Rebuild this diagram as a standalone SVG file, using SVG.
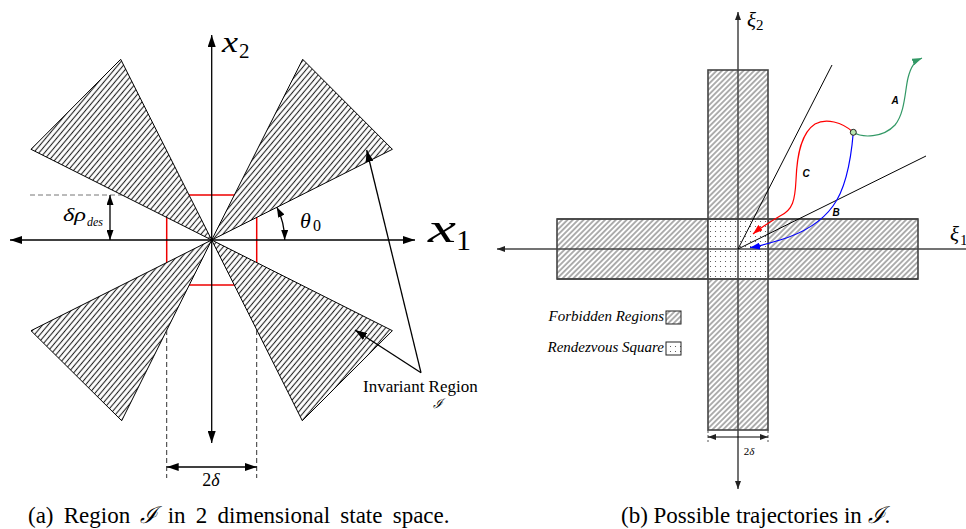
<svg xmlns="http://www.w3.org/2000/svg" width="966" height="529" viewBox="0 0 966 529">
<style>
.ser{font-family:"Liberation Serif","Times New Roman",serif;fill:#000}
.it{font-style:italic}
.wedge{fill:url(#hL);stroke:#000;stroke-width:1}
.ax{stroke:#000;stroke-width:1.3;fill:none}
.rax{stroke:#444;stroke-width:1.5;fill:none}
.rr{stroke:#444;stroke-width:1.6}
.lbl{font-family:"Liberation Sans",Arial,sans-serif;font-weight:bold;font-style:italic;font-size:10px;text-anchor:middle}
</style>
<defs>
<pattern id="hL" width="4.2" height="10" patternUnits="userSpaceOnUse" patternTransform="rotate(40)"><rect width="4.2" height="10" fill="#fff"/><line x1="2.1" y1="0" x2="2.1" y2="10" stroke="#222" stroke-width="1.1"/></pattern>
<pattern id="hR" width="3.8" height="10" patternUnits="userSpaceOnUse" patternTransform="rotate(45)"><rect width="3.8" height="10" fill="#fff"/><line x1="1.9" y1="0" x2="1.9" y2="10" stroke="#333" stroke-width="0.8"/></pattern>
<pattern id="dots" x="708" y="219" width="5" height="5" patternUnits="userSpaceOnUse"><rect width="5" height="5" fill="#fff"/><circle cx="2.5" cy="2.5" r="0.55" fill="#444"/></pattern>
<marker id="ah" markerWidth="12" markerHeight="8" refX="12" refY="4" orient="auto-start-reverse" markerUnits="userSpaceOnUse"><path d="M0,0 L12,4 L0,8 z" fill="#000"/></marker>
<marker id="ahs" markerWidth="10" markerHeight="7" refX="10" refY="3.5" orient="auto-start-reverse" markerUnits="userSpaceOnUse"><path d="M0,0 L10,3.5 L0,7 z" fill="#000"/></marker>
<marker id="ahr" markerWidth="8" markerHeight="6" refX="8" refY="3" orient="auto-start-reverse" markerUnits="userSpaceOnUse"><path d="M0,0 L8,3 L0,6 z" fill="#222"/></marker>
<marker id="agr" markerWidth="10" markerHeight="7" refX="10" refY="3.5" orient="auto" markerUnits="userSpaceOnUse"><path d="M0,0 L10,3.5 L0,7 z" fill="#339966"/></marker>
<marker id="ard" markerWidth="10" markerHeight="7" refX="10" refY="3.5" orient="auto" markerUnits="userSpaceOnUse"><path d="M0,0 L10,3.5 L0,7 z" fill="#f00"/></marker>
<marker id="abl" markerWidth="10" markerHeight="7" refX="10" refY="3.5" orient="auto" markerUnits="userSpaceOnUse"><path d="M0,0 L10,3.5 L0,7 z" fill="#00f"/></marker>
</defs>
<rect width="966" height="529" fill="#fff"/>

<!-- LEFT: Region I -->
<g id="rendezvous-square-left">
<rect x="166.7" y="195" width="90" height="90" fill="none" stroke="#e00" stroke-width="1.5"/>
</g>
<g id="drho-dashed">
<line x1="30" y1="195" x2="125" y2="195" stroke="#777" stroke-width="1" stroke-dasharray="5,3"/>
</g>
<g id="wedge-tl"><polygon class="wedge" points="211.7,240 120.7,59.3 31,149.3"/></g>
<g id="wedge-tr"><polygon class="wedge" points="211.7,240 302.7,59.3 392.4,149.3"/></g>
<g id="wedge-bl"><polygon class="wedge" points="211.7,240 121.7,420.7 31,330.7"/></g>
<g id="wedge-br"><polygon class="wedge" points="211.7,240 302.3,420.7 392.4,330.7"/></g>

<g id="connectors-left">
<line class="ax" x1="10" y1="240" x2="415" y2="240" marker-start="url(#ah)" marker-end="url(#ah)"/>
<line class="ax" x1="211.7" y1="443" x2="211.7" y2="35" marker-start="url(#ah)" marker-end="url(#ah)"/>
<line class="ax" x1="110" y1="195" x2="110" y2="240" marker-start="url(#ahs)" marker-end="url(#ahs)"/>
<path class="ax" d="M276.9,207.2 A73,73 0 0 1 284.7,240" marker-start="url(#ahs)" marker-end="url(#ahs)"/>
<line x1="166.7" y1="330" x2="166.7" y2="478" stroke="#333" stroke-width="1" stroke-dasharray="5,3"/>
<line x1="256.7" y1="330" x2="256.7" y2="478" stroke="#333" stroke-width="1" stroke-dasharray="5,3"/>
<line class="ax" x1="166.7" y1="467" x2="256.7" y2="467" marker-start="url(#ah)" marker-end="url(#ah)"/>
<polyline class="ax" points="366.7,150 421,372.7" marker-start="url(#ah)"/>
<line class="ax" x1="421" y1="372.7" x2="355" y2="330" marker-end="url(#ah)"/>
</g>

<g id="labels-left">
<text class="ser it" x="222" y="52" font-size="29" textLength="16" lengthAdjust="spacingAndGlyphs">x</text><text class="ser" x="239" y="58" font-size="21">2</text>
<text class="ser it" x="428" y="242" font-size="42" textLength="28" lengthAdjust="spacingAndGlyphs">x</text><text class="ser" x="456" y="250" font-size="30">1</text>
<text class="ser it" x="300" y="228" font-size="22">θ</text><text class="ser" x="313" y="231" font-size="16">0</text>
<text class="ser it" x="63" y="221" font-size="19" textLength="23" lengthAdjust="spacingAndGlyphs">δρ</text><text class="ser it" x="87" y="226" font-size="12">des</text>
<text class="ser" x="211" y="486" font-size="18" text-anchor="middle">2<tspan font-style="italic">δ</tspan></text>
<text class="ser" x="363" y="392" font-size="17">Invariant Region</text>
<text class="ser it" x="433" y="408" font-size="13">ℐ</text>
</g>

<!-- RIGHT: trajectories -->
<g id="forbidden-h"><rect class="rr" x="557" y="219" width="361" height="60" fill="url(#hR)"/></g>
<g id="forbidden-v"><rect class="rr" x="708" y="70" width="60" height="360" fill="url(#hR)"/></g>
<g id="rendezvous-square">
<rect x="708" y="219" width="60" height="60" fill="url(#dots)"/>
<rect class="rr" x="708" y="219" width="60" height="60" fill="none"/>
<line class="rr" x1="557" y1="219" x2="918" y2="219"/>
<line class="rr" x1="557" y1="279" x2="918" y2="279"/>
</g>

<g id="connectors-right">
<line class="rax" x1="738" y1="489" x2="738" y2="12" marker-start="url(#ahr)" marker-end="url(#ahr)"/>
<line class="rax" x1="970" y1="249" x2="497" y2="249" marker-end="url(#ahr)"/>
<line x1="738" y1="249" x2="832" y2="65" stroke="#000" stroke-width="1"/>
<line x1="738" y1="249" x2="926" y2="156" stroke="#000" stroke-width="1"/>
<path d="M853.3,132.3 C862,138 883,138 895,125 C905,113 905,90 908,78 C911,66 915,61 922,58" fill="none" stroke="#339966" stroke-width="1.2" marker-end="url(#agr)"/>
<path d="M853.3,132.3 C842,122 826,118 815,124 C801,133 797,155 796,180 C795,200 793,210 780,216 C770,222 760,228 753,234" fill="none" stroke="#f00" stroke-width="1.2" marker-end="url(#ard)"/>
<path d="M853.3,132.3 C851,160 845,190 833,206 C820,224 800,234 780,240 C770,243 760,246 750,247.7" fill="none" stroke="#00f" stroke-width="1.2" marker-end="url(#abl)"/>
<line x1="708" y1="430" x2="708" y2="442" stroke="#555" stroke-width="1" stroke-dasharray="3,2"/>
<line x1="768" y1="430" x2="768" y2="442" stroke="#555" stroke-width="1" stroke-dasharray="3,2"/>
<line x1="708" y1="437" x2="768" y2="437" stroke="#000" stroke-width="1" marker-start="url(#ahr)" marker-end="url(#ahr)"/>
</g>
<g id="start-point"><circle cx="853.3" cy="132.3" r="3" fill="#b8e6b0" stroke="#222" stroke-width="1"/></g>

<g id="labels-right">
<text class="ser it" x="747" y="27" font-size="21">ξ</text><text class="ser" x="756" y="30" font-size="15">2</text>
<text class="ser it" x="950" y="241" font-size="21">ξ</text><text class="ser" x="960" y="245" font-size="15">1</text>
<text class="lbl" x="895" y="104">A</text>
<text class="lbl" x="836" y="216">B</text>
<text class="lbl" x="806" y="177">C</text>
<text class="ser" x="749" y="455" font-size="11" text-anchor="middle">2<tspan font-style="italic">δ</tspan></text>
</g>

<g id="legend">
<text class="ser it" x="664" y="321" font-size="15" text-anchor="end">Forbidden Regions</text>
<rect x="666" y="311" width="15" height="13" fill="url(#hR)" stroke="#222" stroke-width="1"/>
<text class="ser it" x="664" y="352" font-size="15" text-anchor="end">Rendezvous Square</text>
<rect x="666" y="342" width="15" height="13" fill="url(#dots)" stroke="#222" stroke-width="1"/>
</g>

<g id="captions">
<text class="ser" x="28" y="523" font-size="23" word-spacing="4.5">(a) Region <tspan font-style="italic">ℐ</tspan> in 2 dimensional state space.</text>
<text class="ser" x="621" y="523" font-size="23">(b) Possible trajectories in <tspan font-style="italic">ℐ</tspan>.</text>
</g>
</svg>
